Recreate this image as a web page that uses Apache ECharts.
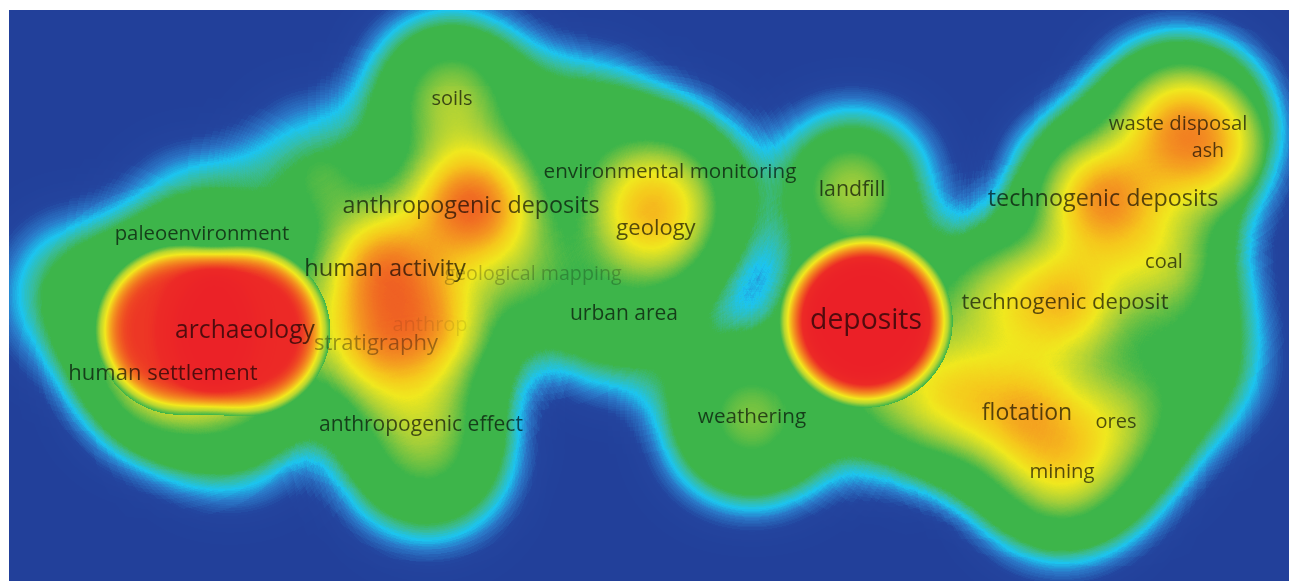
<!DOCTYPE html>
<html>
<head>
<meta charset="utf-8">
<script src="https://cdn.jsdelivr.net/npm/echarts@6/dist/echarts.min.js"></script>
<style>
  html, body { margin: 0; padding: 0; background: #ffffff; }
  #chart { width: 1289px; height: 581px; }
</style>
</head>
<body>
<div id="chart"></div>
<script>
// Keyword co-occurrence map: item positions in map units (x to the right, y upwards).
// Items with an empty name are part of the map but their labels are suppressed.
const keywords = [
  'deposits', 'archaeology', '', 'human settlement', 'paleoenvironment',
  'human activity', 'stratigraphy', 'anthrop', 'anthropogenic deposits', 'soils',
  'geological mapping', 'environmental monitoring', 'geology', 'urban area', 'anthropogenic effect',
  'weathering', 'landfill', 'technogenic deposits', 'waste disposal', 'ash',
  'coal', 'technogenic deposit', 'flotation', 'ores', 'mining',
  '', '', '', '', '', '', '', '', '', ''
];
const mapX = [
  857, 236, 171, 154, 193,
  376, 367, 421, 462, 443,
  524, 661, 647, 615, 412,
  743, 843, 1094, 1169, 1199,
  1155, 1056, 1018, 1107, 1053,
  76, 876, 946, 1176, 421, 641, 311, 571, 221, 981
];
const mapY = [
  260, 250, 251, 207, 347,
  312, 237, 256, 375, 482,
  307, 409, 352, 267, 156,
  164, 391, 382, 457, 430,
  319, 278, 168, 159, 109,
  286, 181, 186, 221, 111, 371, 406, 446, 166, 281
];
// Occurrences set the label size; the most frequent keywords form the hot cores
const occurrences = [
  31, 20, 19, 12, 7,
  17, 12, 6, 16, 6,
  5, 8, 12, 9, 9,
  8, 10, 16, 7, 5,
  6, 12, 15, 6, 7,
  4, 3, 5, 3, 4, 8, 3, 3, 4, 4
];
// Item weight drives the local density peaks
const weight = [
  45, 90, 90, 50, 10,
  85, 65, 65, 100, 45,
  30, 15, 25, 15, 38,
  40, 45, 85, 65, 60,
  45, 70, 65, 40, 50,
  10, 25, 55, 20, 15, 58, 32, 15, 20, 40
];
// Total link strength drives the wide spread of the density field
const linkStrength = [
  75, 90, 90, 55, 30,
  85, 70, 70, 90, 60,
  30, 25, 40, 34, 55,
  68, 45, 90, 75, 15,
  45, 75, 70, 50, 65,
  30, 25, 60, 35, 25, 60, 22, 35, 35, 35
];

// Labels drawn partly hidden behind neighbouring labels
const fadedLabels = { 'geological mapping': 0.3, 'stratigraphy': 0.45, 'anthrop': 0.12 };

const PLANE_W = 1280, PLANE_H = 571;
echarts.registerMap('plane', {
  type: 'FeatureCollection',
  features: [{
    type: 'Feature', properties: { name: 'plane' },
    geometry: { type: 'Polygon', coordinates: [[[0, 0], [PLANE_W, 0], [PLANE_W, PLANE_H], [0, PLANE_H], [0, 0]]] }
  }]
});

// Expand colour stops [position, hex, alpha] into a 256-step ramp;
// each step is either fully transparent or fully opaque
function ramp(stops) {
  const rgb = h => [1, 3, 5].map(i => parseInt(h.substr(i, 2), 16));
  const out = [];
  for (let i = 0; i < 256; i++) {
    const t = i / 255;
    let k = 0;
    while (k < stops.length - 2 && t > stops[k + 1][0]) k++;
    const a = stops[k], b = stops[k + 1];
    const f = Math.min(1, Math.max(0, (t - a[0]) / ((b[0] - a[0]) || 1)));
    const ca = rgb(a[1]), cb = rgb(b[1]);
    const c = ca.map((v, j) => Math.round(v + (cb[j] - v) * f));
    const al = (a[2] + (b[2] - a[2]) * f) >= 0.5 ? 1 : 0;
    out.push('rgba(' + c.join(',') + ',' + al + ')');
  }
  return out;
}

const BG = '#22409a', GREEN = '#3db54a';
const haloColors = ramp([
  [0, BG, 1], [0.03, '#23449e', 1], [0.06, '#2a78c8', 1], [0.09, '#1cc4ef', 1],
  [0.12, '#38bc9c', 1], [0.15, GREEN, 1], [1, GREEN, 1]
]);
const glowColors = ramp([
  [0, GREEN, 0], [0.199, GREEN, 0], [0.2, GREEN, 1], [0.3, '#a5cf39', 1], [0.4, '#f0e81e', 1],
  [0.48, '#f5c81c', 1], [0.56, '#f49a20', 1], [0.66, '#f06a22', 1], [0.78, '#ec3826', 1], [0.88, '#eb2027', 1], [1, '#eb2027', 1]
]);
const coreColors = ramp([
  [0, GREEN, 0], [0.215, GREEN, 0], [0.22, GREEN, 1], [0.34, '#b4d532', 1], [0.46, '#f2e81d', 1],
  [0.6, '#f4a01f', 1], [0.74, '#f06021', 1], [0.85, '#ec2a26', 1], [1, '#eb2027', 1]
]);

const haloPoints = keywords.map((k, i) => [mapX[i], mapY[i], linkStrength[i]]);
const glowPoints = keywords.map((k, i) => [mapX[i], mapY[i], weight[i]]);
const corePoints = keywords.map((k, i) => [mapX[i], mapY[i], occurrences[i]])
  .filter(p => p[2] >= 19);

const labels = [];
keywords.forEach((k, i) => {
  if (!k) return;
  const op = fadedLabels[k];
  labels.push({
    name: k,
    value: [mapX[i], mapY[i]],
    label: {
      fontSize: 18 + occurrences[i] / 3,
      color: op ? 'rgba(0,0,0,' + op + ')' : 'rgba(0,0,0,0.82)'
    }
  });
});

const heat = (data, pointSize, blurSize, z) => ({
  type: 'heatmap', coordinateSystem: 'geo', geoIndex: 0, data,
  pointSize, blurSize, minOpacity: 1, maxOpacity: 1, z, silent: true
});

const chart = echarts.init(document.getElementById('chart'), null, { renderer: 'canvas' });
chart.setOption({
  animation: false,
  backgroundColor: '#ffffff',
  geo: {
    map: 'plane', roam: false, silent: true,
    left: 9, top: 10, width: PLANE_W, height: PLANE_H,
    aspectScale: 1,
    boundingCoords: [[0, PLANE_H], [PLANE_W, 0]],
    itemStyle: { areaColor: BG, borderWidth: 0, borderColor: BG },
    emphasis: { disabled: true },
    select: { disabled: true },
    label: { show: false }
  },
  visualMap: [
    { type: 'continuous', show: false, seriesIndex: 0, min: 0, max: 100, inRange: { color: haloColors } },
    { type: 'continuous', show: false, seriesIndex: 1, min: 0, max: 100, inRange: { color: glowColors } },
    { type: 'continuous', show: false, seriesIndex: 2, min: 0, max: 23, inRange: { color: coreColors } }
  ],
  series: [
    heat(haloPoints, 60, 84, 1),
    heat(glowPoints, 50, 70, 2),
    heat(corePoints, 78, 26, 3),
    {
      type: 'scatter', coordinateSystem: 'geo', geoIndex: 0, z: 10, silent: true,
      symbolSize: 0, data: labels,
      label: {
        show: true, position: 'inside', formatter: '{b}',
        fontFamily: 'Open Sans', fontWeight: 'normal'
      },
      labelLayout: { hideOverlap: false }
    }
  ]
});
</script>
</body>
</html>
